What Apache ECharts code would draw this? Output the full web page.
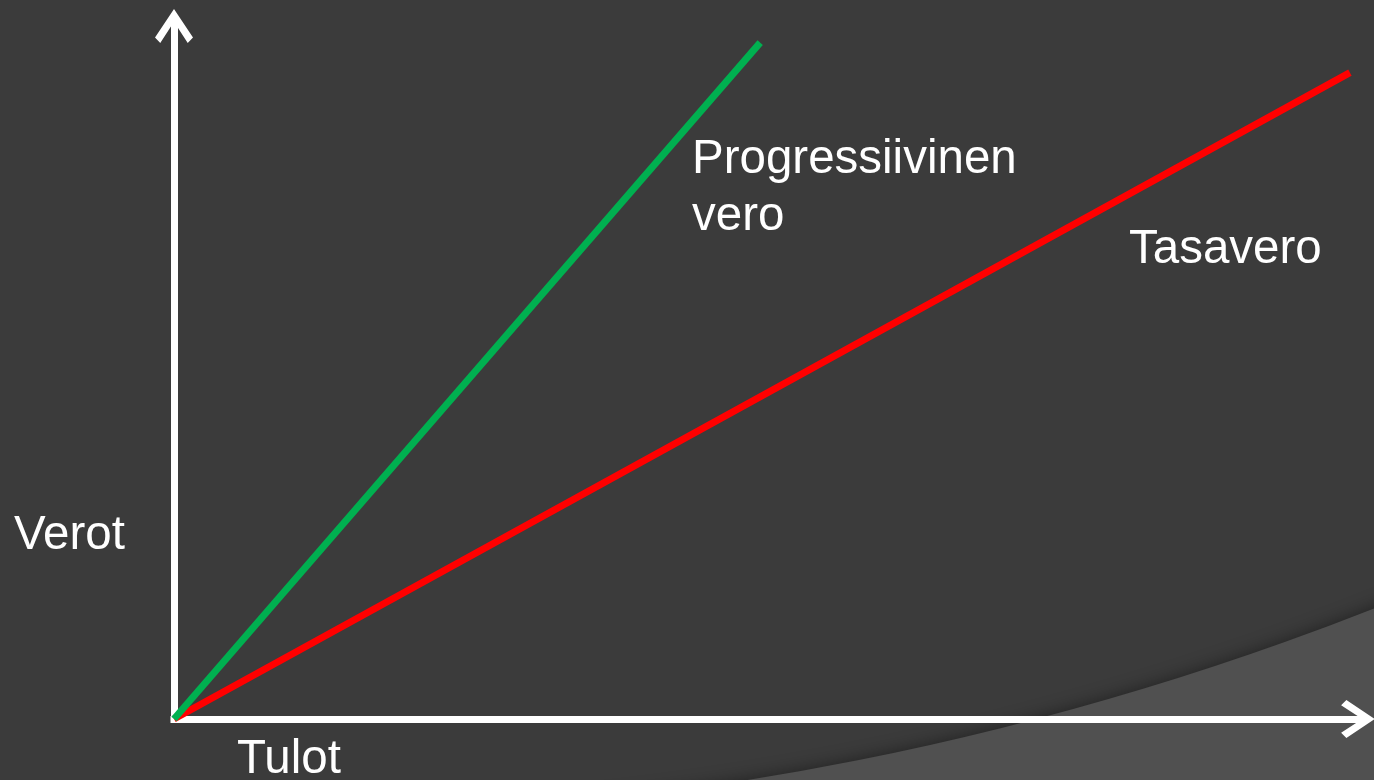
<!DOCTYPE html>
<html>
<head>
<meta charset="utf-8">
<title>Verot ja tulot</title>
<script src="https://cdn.jsdelivr.net/npm/echarts@6/dist/echarts.min.js"></script>
<style>
	html, body { margin: 0; padding: 0; background: #3b3b3b; }
	#chart { width: 1374px; height: 780px; }
</style>
</head>
<body>
<div id="chart"></div>
<script>
// progressiivinen vero: tulot -> verot
const progTulot = [0, 49.3];
const progVerot = [0, 96.9];
// tasavero
const tasaTulot = [0, 98.9];
const tasaVerot = [0, 92.6];

const axisMin = 0;
const axisMax = 100;

// open chevron arrow, tip up
const arrowPath = "path://M18 0 L36 27 L31 32 L18 12 L5 32 L0 27 Z";
const labelFont = "47.5px 'Liberation Sans', Arial, sans-serif";

let chart = echarts.init(document.getElementById("chart"));

let pairs = function(xs, ys) {
	return xs.map(function(x, i) {
		return [x, ys[i]];
	});
};

let axisLine = {
	show: true,
	symbol: ["none", arrowPath],
	symbolSize: [38, 34],
	symbolOffset: [0, -5],
	lineStyle: { color: "#ffffff", width: 7, cap: "square" }
};

let option = {
	backgroundColor: "#3b3b3b",
	animation: false,
	grid: {
		left: 174,
		right: 11,
		top: 21,
		bottom: 61,
		containLabel: false
	},
	xAxis: {
		type: "value",
		min: axisMin,
		max: axisMax,
		axisLine: axisLine,
		axisTick: { show: false },
		axisLabel: { show: false },
		splitLine: { show: false }
	},
	yAxis: {
		type: "value",
		min: axisMin,
		max: axisMax,
		axisLine: axisLine,
		axisTick: { show: false },
		axisLabel: { show: false },
		splitLine: { show: false }
	},
	series: [
		{
			name: "Tasavero",
			type: "line",
			data: pairs(tasaTulot, tasaVerot),
			symbol: "none",
			lineStyle: { color: "#ff0000", width: 7 },
			z: 3
		},
		{
			name: "Progressiivinen vero",
			type: "line",
			data: pairs(progTulot, progVerot),
			symbol: "none",
			lineStyle: { color: "#00b050", width: 7 },
			z: 4
		}
	],
	graphic: [
		{
			// lighter backdrop below the big arc
			type: "ring",
			z: -10,
			silent: true,
			shape: { cx: 271, cy: -2189, r0: 3007, r: 5200 },
			style: {
				fill: "#505050",
				shadowBlur: 18,
				shadowColor: "rgba(0,0,0,0.45)"
			}
		},
		{
			type: "text",
			z: 10,
			x: 692,
			y: 131,
			style: {
				text: "Progressiivinen\nvero",
				fill: "#ffffff",
				font: labelFont,
				lineHeight: 57,
				verticalAlign: "top"
			}
		},
		{
			type: "text",
			z: 10,
			x: 1129,
			y: 250,
			style: {
				text: "Tasavero",
				fill: "#ffffff",
				font: labelFont,
				verticalAlign: "middle"
			}
		},
		{
			type: "text",
			z: 10,
			x: 14,
			y: 536,
			style: {
				text: "Verot",
				fill: "#ffffff",
				font: labelFont,
				verticalAlign: "middle"
			}
		},
		{
			type: "text",
			z: 10,
			x: 237,
			y: 760,
			style: {
				text: "Tulot",
				fill: "#ffffff",
				font: labelFont,
				verticalAlign: "middle"
			}
		}
	]
};

chart.setOption(option);
</script>
</body>
</html>
